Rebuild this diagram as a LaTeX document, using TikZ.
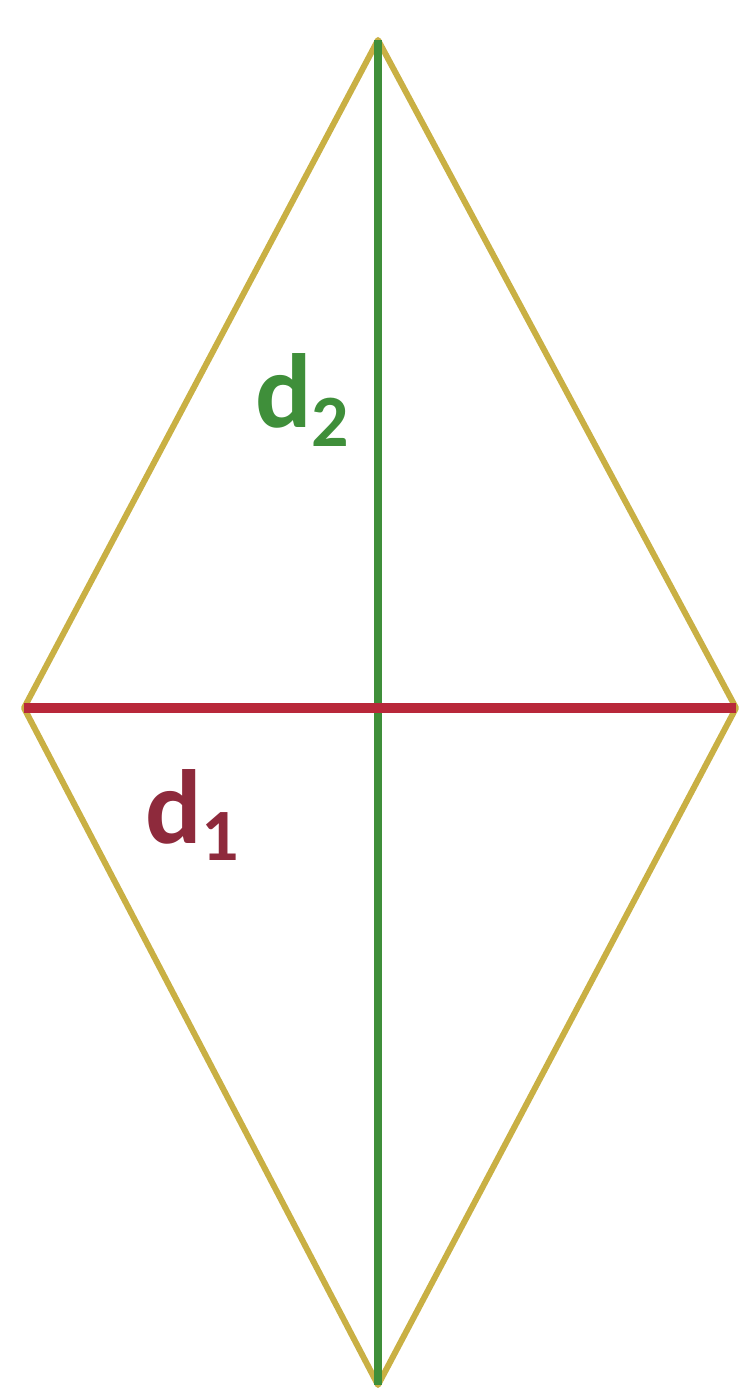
\documentclass[tikz,border=0pt]{standalone}
\usepackage{fontspec}
\setmainfont{Carlito}
\definecolor{rimcol}{HTML}{C9B044}
\definecolor{dtwocol}{HTML}{3F8F3A}
\definecolor{donecol}{HTML}{B8283A}
\definecolor{donetxt}{HTML}{8E2A3C}

\begin{document}
\begin{tikzpicture}
\useasboundingbox (0,0) rectangle (7.45,13.97);

\tikzset{
    rim/.style = {draw=rimcol, line width=1.7pt, line join=round},
    lbl/.style = {font=\fontsize{30}{30}\selectfont\bfseries, inner sep=0pt}
}

\coordinate (top) at (3.78,13.57);
\coordinate (bot) at (3.78,0.12);
\coordinate (lft) at (0.24,6.89);
\coordinate (rgt) at (7.36,6.89);

\draw [rim] (top) -- (rgt) -- (bot) -- (lft) -- cycle;

% diagonals
\draw [dtwocol, line width=2pt] (top) -- (bot);
\draw [donecol, line width=3pt] (lft) -- (rgt);

\node [lbl, text=dtwocol] (dtwo) at (3.03,9.97) {d\textsubscript{2}};
\node [lbl, text=donetxt] (done) at (1.93,5.82) {d\textsubscript{1}};
\end{tikzpicture}
\end{document}
